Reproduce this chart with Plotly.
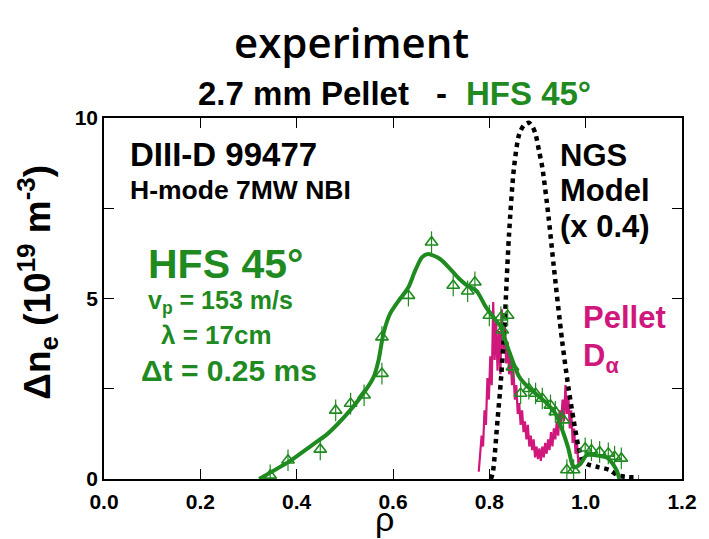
import plotly.graph_objects as go

# ---------------- data ----------------
tri_x = [0.345, 0.382, 0.449, 0.481, 0.512, 0.540, 0.577, 0.577, 0.632, 0.680,
         0.725, 0.755, 0.770, 0.800, 0.824, 0.838, 0.827, 0.848, 0.865, 0.882,
         0.896, 0.910, 0.927, 0.937, 0.954, 0.961, 0.975, 0.999, 1.012, 1.029,
         1.047, 1.060, 1.074]
tri_y = [0.10, 0.52, 0.82, 1.90, 2.09, 2.32, 2.92, 3.93, 5.08, 6.56,
         5.36, 5.20, 5.45, 4.53, 4.48, 4.53, 4.12, 3.10, 2.37, 2.50,
         2.37, 2.23, 2.04, 1.86, 1.63, 0.25, 0.25, 0.85, 0.80, 0.75,
         0.71, 0.62, 0.57]

fit_x = [0.322, 0.384, 0.43, 0.464, 0.499, 0.533, 0.56, 0.57, 0.58, 0.594,
         0.615, 0.632, 0.646, 0.66, 0.673, 0.697, 0.72, 0.738, 0.755, 0.773,
         0.793, 0.81, 0.824, 0.838, 0.862, 0.88, 0.896, 0.915, 0.937, 0.954,
         0.964, 0.975, 0.988, 1.002, 1.02, 1.046, 1.064, 1.07]
fit_y = [0.0, 0.48, 0.92, 1.25, 1.72, 2.27, 2.83, 3.29, 4.02, 4.58,
         5.0, 5.31, 5.77, 6.14, 6.23, 6.1, 5.8, 5.54, 5.35, 5.22,
         4.76, 4.45, 4.21, 3.65, 2.83, 2.55, 2.37, 2.15, 1.82, 1.26,
         0.85, 0.32, 0.40, 0.66, 0.66, 0.58, 0.25, 0.0]

ngs_x = [0.803, 0.807, 0.817, 0.824, 0.831, 0.836, 0.841, 0.851, 0.862, 0.872,
         0.882, 0.890, 0.896, 0.903, 0.910, 0.923, 0.934, 0.951, 0.964, 0.975,
         0.985, 0.995, 1.005, 1.026, 1.050, 1.067, 1.090, 1.110]
ngs_y = [0.0, 0.16, 1.63, 2.73, 4.10, 5.50, 6.80, 8.60, 9.55, 9.80,
         9.87, 9.75, 9.55, 9.10, 8.63, 7.25, 5.86, 3.84, 2.55, 1.63,
         0.90, 0.50, 0.40, 0.33, 0.25, 0.10, 0.05, 0.05]

da_x = [0.778, 0.781, 0.784, 0.787, 0.790, 0.793, 0.796, 0.799, 0.802, 0.805,
        0.808, 0.811, 0.814, 0.817, 0.820, 0.823, 0.826, 0.829, 0.832, 0.835,
        0.838, 0.841, 0.844, 0.847, 0.850, 0.853, 0.856, 0.859, 0.862, 0.865,
        0.868, 0.871, 0.874, 0.877, 0.880, 0.883, 0.886, 0.889, 0.892, 0.895,
        0.898, 0.901, 0.904, 0.907, 0.910, 0.913, 0.916, 0.919, 0.922, 0.925,
        0.928, 0.931, 0.934, 0.937, 0.940, 0.943, 0.946, 0.949, 0.952, 0.955,
        0.958, 0.961, 0.964, 0.967, 0.970, 0.973, 0.976, 0.979, 0.982, 0.985,
        0.988]
da_y = [0.2, 0.6, 1.2, 0.9, 1.9, 1.5, 2.8, 2.2, 3.4, 2.6,
        4.9, 3.3, 4.4, 3.0, 4.1, 2.9, 4.7, 3.6, 4.3, 3.2,
        3.8, 2.9, 3.5, 2.6, 3.0, 2.2, 2.6, 1.8, 2.1, 1.5,
        1.9, 1.3, 1.6, 1.1, 1.5, 0.9, 1.2, 0.8, 1.1, 0.6,
        0.9, 0.55, 0.85, 0.5, 0.9, 0.6, 1.0, 0.7, 1.1, 0.8,
        1.3, 0.9, 1.4, 1.1, 1.6, 1.2, 1.9, 1.5, 2.2, 1.6,
        2.6, 1.8, 2.3, 1.4, 1.9, 1.0, 1.4, 0.7, 1.0, 0.4,
        0.6]

x_ticks = [0.0, 0.2, 0.4, 0.6, 0.8, 1.0, 1.2]
x_tick_text = ["0.0", "0.2", "0.4", "0.6", "0.8", "1.0", "1.2"]
y_ticks = [0, 2.5, 5, 7.5, 10]
y_tick_text = ["0", "", "5", "", "10"]

# ---------------- styling ----------------
GREEN = "#1f8a1f"
PINK = "#d0177c"
FONT = "Liberation Sans"

W, H = 709, 539
L, R, T, B = 104, 21, 118, 60
PW, PH = W - L - R, H - T - B


def px(x):
    return (x - L) / PW


def py(y):
    return (H - B - y) / PH


fig = go.Figure()

fig.add_trace(go.Scatter(x=da_x, y=da_y, mode="lines",
                         line=dict(color=PINK, width=2.2),
                         hoverinfo="skip", showlegend=False))
fig.add_trace(go.Scatter(x=ngs_x, y=ngs_y, mode="lines",
                         line=dict(color="black", width=4.5, dash="dot",
                                   shape="spline", smoothing=0.8),
                         showlegend=False))
fig.add_trace(go.Scatter(x=tri_x, y=tri_y, mode="markers",
                         marker=dict(symbol="triangle-up-open", size=11,
                                     color=GREEN, line=dict(width=1.6, color=GREEN)),
                         error_y=dict(type="data", array=[0.3] * len(tri_y),
                                      color=GREEN, thickness=1.2, width=0),
                         showlegend=False))
fig.add_trace(go.Scatter(x=fit_x, y=fit_y, mode="lines",
                         line=dict(color=GREEN, width=4, shape="spline", smoothing=0.7),
                         showlegend=False))

ann = []


def add(text, x, y, size, color="black", anchor="left", weight="bold",
        family=FONT, angle=0):
    ann.append(dict(text=text, x=px(x), y=py(y), xref="paper", yref="paper",
                    xanchor=anchor, yanchor="middle", showarrow=False,
                    textangle=angle,
                    font=dict(family=family, size=size, color=color, weight=weight)))


add("experiment", 354, 41, 42, anchor="center", weight=600, family="Open Sans")
add("2.7 mm Pellet", 197, 94, 33)
add("-", 437, 94, 33)
add("HFS 45°", 468, 94, 33, color=GREEN)
add("DIII-D 99477", 128, 154, 33)
add("H-mode 7MW NBI", 128, 190, 26.5)
add("HFS 45°", 146, 264, 41, color=GREEN)
add("v<sub>p</sub> = 153 m/s", 146, 302, 25, color=GREEN)
add("λ = 17cm", 160, 335, 26, color=GREEN)
add("Δt = 0.25 ms", 139, 370, 30, color=GREEN)
add("NGS", 563, 155, 31)
add("Model", 563, 190, 31)
add("(x 0.4)", 563, 226, 31)
add("Pellet", 586, 317, 31, color=PINK)
add("D<sub>α</sub>", 586, 358, 31, color=PINK)
add("Δn<sub>e</sub> (10<sup>19</sup> m<sup>-3</sup>)", 36, 282, 37, anchor="center", angle=-90)
add("ρ", 387, 519, 34, anchor="center", weight="normal")

axis_common = dict(showline=True, linecolor="black", linewidth=1.5, mirror="ticks",
                   ticks="inside", ticklen=10, tickwidth=1.3, tickcolor="black",
                   showgrid=False, zeroline=False,
                   tickfont=dict(family=FONT, size=21, color="black", weight="bold"))

fig.update_layout(
    width=W, height=H,
    margin=dict(l=L, r=R, t=T, b=B, pad=0),
    paper_bgcolor="white", plot_bgcolor="white",
    xaxis=dict(range=[0, 1.2], tickvals=x_ticks, ticktext=x_tick_text,
               ticklabelstandoff=3, **axis_common),
    yaxis=dict(range=[0, 10], tickvals=y_ticks, ticktext=y_tick_text,
               ticklabelstandoff=0, **axis_common),
    annotations=ann,
    showlegend=False,
)

fig.write_html("out.html")
